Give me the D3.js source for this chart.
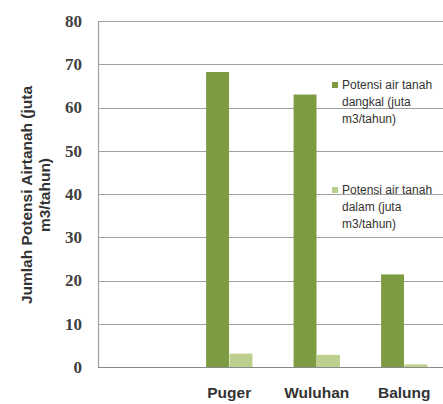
<!DOCTYPE html>
<html><head><meta charset="utf-8">
<script src="https://cdn.jsdelivr.net/npm/d3@7"></script>
<style>body{margin:0;background:#fff}svg{display:block}</style>
</head><body>
<script>
const categories = ["", "Puger", "Wuluhan", "Balung"];
const dangkal = [null, 68.2, 63.0, 21.4];
const dalam = [null, 3.1, 2.8, 0.6];
const seriesNames = ["Potensi air tanah dangkal (juta m3/tahun)", "Potensi air tanah dalam (juta m3/tahun)"];
const yTicks = [0, 10, 20, 30, 40, 50, 60, 70, 80];
const yTitle = ["Jumlah Potensi Airtanah (juta", "m3/tahun)"];
const legendLines = [["Potensi air tanah", "dangkal (juta", "m3/tahun)"], ["Potensi air tanah", "dalam (juta", "m3/tahun)"]];
const colors = ["#7d9b41", "#bccf8c"];

(function () {
const W = 443, H = 404;
const svg = d3.select("body").append("svg").attr("width", W).attr("height", H);
const pLeft = 98, pTop = 21, pBottom = 367, pRight = 448;
const y = d3.scaleLinear().domain([0, 80]).range([pBottom, pTop]);
const x = d3.scaleBand().domain(categories).range([pLeft, pRight]).paddingInner(0.46).paddingOuter(0.23);
const xs = d3.scaleBand().domain([0, 1]).range([0, x.bandwidth()]).padding(0.02);

// gridlines
svg.append("g").selectAll("line").data(yTicks).join("line")
  .attr("x1", pLeft).attr("x2", W).attr("y1", d => Math.round(y(d)) + 0.5).attr("y2", d => Math.round(y(d)) + 0.5)
  .attr("stroke", d => d === 0 ? "#8a8a8a" : "#a0a0a0").attr("stroke-width", 1.2);
svg.append("line").attr("x1", pLeft + 0.5).attr("x2", pLeft + 0.5).attr("y1", y(80)).attr("y2", y(0))
  .attr("stroke", "#a0a0a0").attr("stroke-width", 1.2);

// y tick labels
svg.append("g").selectAll("text").data(yTicks).join("text")
  .attr("x", 82).attr("y", d => y(d)).attr("dy", "0.35em").attr("text-anchor", "end")
  .attr("font-family", "Liberation Serif").attr("font-weight", "bold").attr("font-size", 17)
  .attr("fill", "#404040").text(d => d);

// bars
const rows = categories.map((c, i) => ({c, v: [dangkal[i], dalam[i]]}));
const g = svg.append("g").selectAll("g").data(rows).join("g").attr("transform", d => `translate(${x(d.c)},0)`);
g.selectAll("rect").data(d => d.v.map((v, k) => ({v, k})).filter(e => e.v != null)).join("rect")
  .attr("x", d => xs(d.k)).attr("width", xs.bandwidth())
  .attr("y", d => y(d.v)).attr("height", d => y(0) - y(d.v))
  .attr("fill", d => colors[d.k]);

// x labels
svg.append("g").selectAll("text").data(categories.filter(c => c)).join("text")
  .attr("x", d => x(d) + x.bandwidth() / 2).attr("y", 393).attr("dy", "0.35em").attr("text-anchor", "middle")
  .attr("font-family", "Liberation Sans").attr("font-weight", "bold").attr("font-size", 15.5)
  .attr("fill", "#333").text(d => d);

// y title
const yt = svg.append("text").attr("transform", "translate(36,195) rotate(-90)")
  .attr("text-anchor", "middle").attr("font-family", "Liberation Sans").attr("font-weight", "bold")
  .attr("font-size", 15.5).attr("fill", "#333");
yTitle.forEach((t, i) => yt.append("tspan").attr("x", 0).attr("y", (i - 0.5) * 18).attr("dy", "0.35em").text(t));

// legend
const legY = [85, 190];
legendLines.forEach((lines, k) => {
  svg.append("rect").attr("x", 332).attr("y", legY[k] - 3).attr("width", 6).attr("height", 6).attr("fill", colors[k]);
  const t = svg.append("text").attr("font-family", "Liberation Sans").attr("font-size", 12).attr("fill", "#333");
  lines.forEach((l, i) => t.append("tspan").attr("x", 342).attr("y", legY[k] + i * 16.7).attr("dy", "0.35em").text(l));
});
})();
</script>
</body></html>
